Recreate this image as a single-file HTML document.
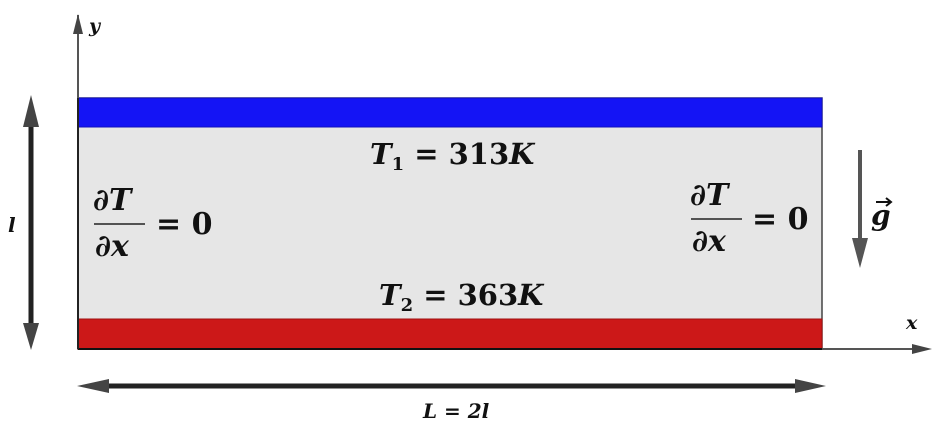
<!DOCTYPE html>
<html><head><meta charset="utf-8"><style>
body{margin:0;background:#fff;width:942px;height:427px;overflow:hidden}
text{font-family:"DejaVu Serif","Liberation Serif",serif;font-weight:bold;fill:#111}
</style></head><body>
<svg width="942" height="427" viewBox="0 0 942 427" xmlns="http://www.w3.org/2000/svg">
<rect x="78" y="98" width="744" height="251" fill="#e6e6e6" stroke="#444" stroke-width="1.5"/>
<rect x="78" y="98" width="744" height="29" fill="#1414f5" stroke="#1010c0" stroke-width="1"/>
<rect x="78" y="319" width="744" height="30" fill="#cc1818" stroke="#a01010" stroke-width="1"/>
<line x1="78" y1="349" x2="822" y2="349" stroke="#111" stroke-width="2"/>
<line x1="78" y1="349" x2="78" y2="98" stroke="#222" stroke-width="2"/>
<g>
<line x1="78" y1="98" x2="78" y2="15" stroke="#555" stroke-width="2"/>
<path d="M73,34 L78,14 L83,34z" fill="#444"/>
<text x="89" y="32" font-style="italic" font-size="19">y</text>
</g>
<g>
<line x1="822" y1="349" x2="915" y2="349" stroke="#555" stroke-width="2"/>
<path d="M912,344 L932,349 L912,354z" fill="#444"/>
<text x="906" y="329" font-style="italic" font-size="19">x</text>
</g>
<g>
<line x1="31" y1="110" x2="31" y2="335" stroke="#222" stroke-width="5"/>
<path d="M23,127 L31,95 L39,127z" fill="#444"/>
<path d="M23,323 L31,350 L39,323z" fill="#444"/>
<text x="8" y="232" font-style="italic" font-size="20">l</text>
</g>
<g>
<line x1="92" y1="386" x2="812" y2="386" stroke="#222" stroke-width="5"/>
<path d="M109,379 L77,386 L109,393z" fill="#444"/>
<path d="M795,379 L826,386 L795,393z" fill="#444"/>
<text x="423" y="418" font-style="italic" font-size="20">L = 2l</text>
</g>
<g>
<line x1="860" y1="150" x2="860" y2="245" stroke="#555" stroke-width="4"/>
<path d="M852,238 L860,268 L868,238z" fill="#555"/>
<text x="871" y="225" font-style="italic" font-size="28">g</text>
<path d="M876,202 L890,202 M886,198 L891,202 L886,206" stroke="#111" stroke-width="2" fill="none"/>
</g>
<text x="370" y="164" font-size="29"><tspan font-style="italic">T</tspan><tspan font-size="18" dy="6">1</tspan><tspan dy="-6"> = 313</tspan><tspan font-style="italic">K</tspan></text>
<text x="379" y="305" font-size="29"><tspan font-style="italic">T</tspan><tspan font-size="18" dy="6">2</tspan><tspan dy="-6"> = 363</tspan><tspan font-style="italic">K</tspan></text>
<g>
<text x="93" y="210" font-style="italic" font-size="30">∂T</text>
<line x1="94" y1="224" x2="145" y2="224" stroke="#222" stroke-width="1.5"/>
<text x="95" y="256" font-style="italic" font-size="30">∂x</text>
<text x="156" y="234" font-size="30">= 0</text>
</g>
<g>
<text x="690" y="205" font-style="italic" font-size="30">∂T</text>
<line x1="691" y1="219" x2="742" y2="219" stroke="#222" stroke-width="1.5"/>
<text x="692" y="251" font-style="italic" font-size="30">∂x</text>
<text x="752" y="229" font-size="30">= 0</text>
</g>
</svg>
</body></html>
